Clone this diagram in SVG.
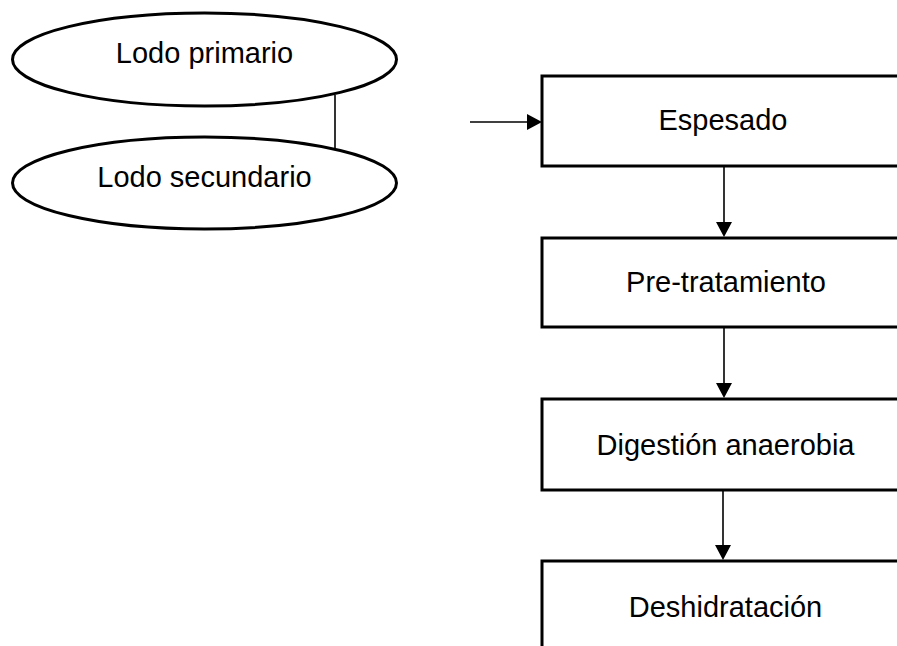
<svg xmlns="http://www.w3.org/2000/svg" width="897" height="646" viewBox="0 0 897 646">
<defs>
<style>
.shape{fill:#fff;stroke:#000;stroke-width:3}
.lbl{font-family:"Liberation Sans",Arial,sans-serif;font-size:29px;fill:#000;text-anchor:middle}
.conn{stroke:#000;stroke-width:1.6;fill:none}
.head{fill:#000}
</style>
</defs>
<rect width="897" height="646" fill="#fff"/>
<g id="connectors">
<line class="conn" x1="335" y1="95" x2="335" y2="149"/>
<path class="conn" d="M470,122 H527"/>
<path class="head" d="M527,114 L542,122 L527,130 Z"/>
<path class="conn" d="M724,167 V222"/>
<path class="head" d="M716,222 L724,237 L732,222 Z"/>
<path class="conn" d="M724,328 V383"/>
<path class="head" d="M716,383 L724,398 L732,383 Z"/>
<path class="conn" d="M723,491 V545"/>
<path class="head" d="M715,545 L723,560 L731,545 Z"/>
</g>
<g id="lodo-primario">
<ellipse class="shape" cx="204.5" cy="59.5" rx="192" ry="46.5"/>
<text class="lbl" x="204.5" y="63">Lodo primario</text>
</g>
<g id="lodo-secundario">
<ellipse class="shape" cx="204.5" cy="183" rx="192" ry="46"/>
<text class="lbl" x="204.5" y="187">Lodo secundario</text>
</g>
<g id="espesado">
<rect class="shape" x="542" y="76" width="370" height="90"/>
<text class="lbl" x="723" y="130">Espesado</text>
</g>
<g id="pre-tratamiento">
<rect class="shape" x="542" y="238" width="370" height="89"/>
<text class="lbl" x="726" y="292">Pre-tratamiento</text>
</g>
<g id="digestion">
<rect class="shape" x="542" y="399" width="370" height="91"/>
<text class="lbl" x="725.5" y="455">Digestión anaerobia</text>
</g>
<g id="deshidratacion">
<rect class="shape" x="542" y="561" width="370" height="120"/>
<text class="lbl" x="725.5" y="617">Deshidratación</text>
</g>
</svg>
